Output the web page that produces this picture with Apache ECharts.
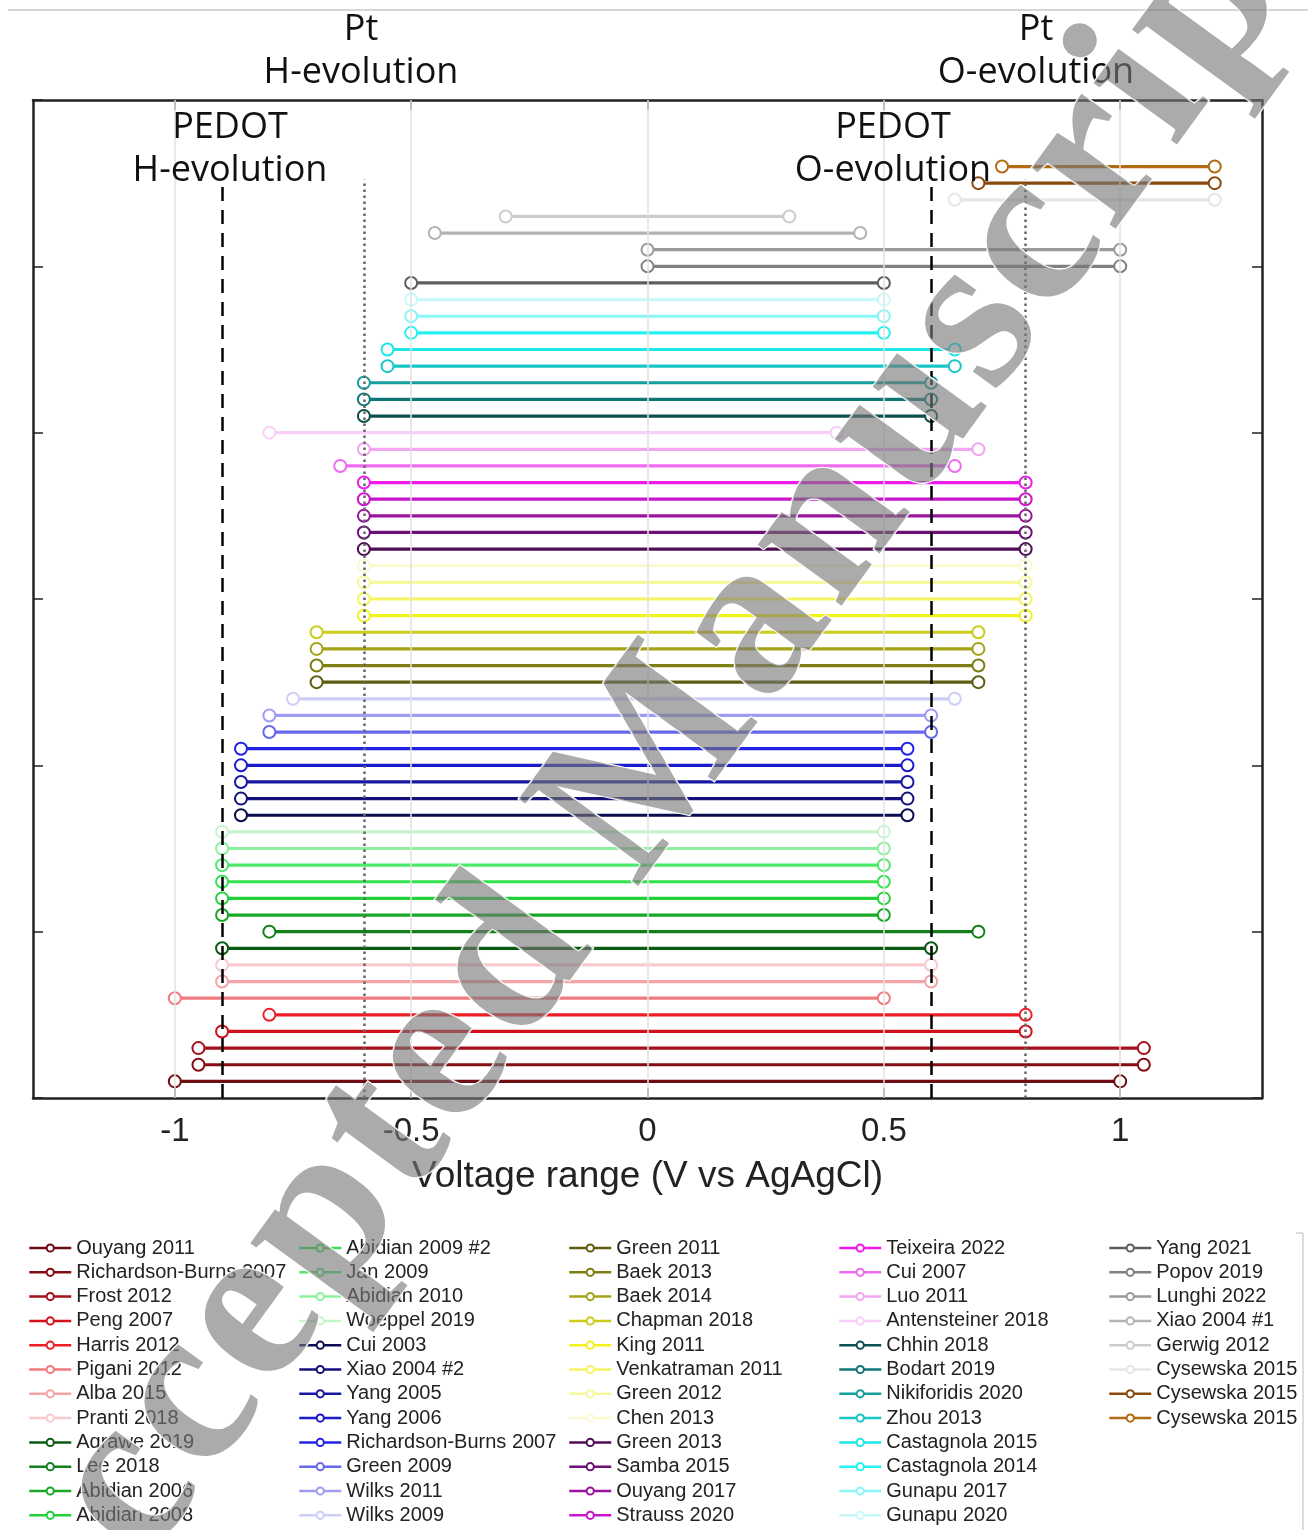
<!DOCTYPE html>
<html><head><meta charset="utf-8">
<script src="https://cdn.jsdelivr.net/npm/echarts@6/dist/echarts.min.js"></script>
<style>html,body{margin:0;padding:0;background:#fff}#c{width:1308px;height:1530px}</style>
</head><body><div id="c"></div>
<script>
// Studies, bottom row first
const studies = [
  'Ouyang 2011','Richardson-Burns 2007','Frost 2012','Peng 2007','Harris 2012','Pigani 2012','Alba 2015','Pranti 2018',
  'Aqrawe 2019','Lee 2018','Abidian 2006','Abidian 2008','Abidian 2009 #2','Jan 2009','Abidian 2010','Woeppel 2019',
  'Cui 2003','Xiao 2004 #2','Yang 2005','Yang 2006','Richardson-Burns 2007','Green 2009','Wilks 2011','Wilks 2009',
  'Green 2011','Baek 2013','Baek 2014','Chapman 2018','King 2011','Venkatraman 2011','Green 2012','Chen 2013',
  'Green 2013','Samba 2015','Ouyang 2017','Strauss 2020','Teixeira 2022','Cui 2007','Luo 2011','Antensteiner 2018',
  'Chhin 2018','Bodart 2019','Nikiforidis 2020','Zhou 2013','Castagnola 2015','Castagnola 2014','Gunapu 2017','Gunapu 2020',
  'Yang 2021','Popov 2019','Lunghi 2022','Xiao 2004 #1','Gerwig 2012','Cysewska 2015','Cysewska 2015','Cysewska 2015'
];
const vStart = [
  -1, -0.95, -0.95, -0.9, -0.8, -1, -0.9, -0.9,
  -0.9, -0.8, -0.9, -0.9, -0.9, -0.9, -0.9, -0.9,
  -0.86, -0.86, -0.86, -0.86, -0.86, -0.8, -0.8, -0.75,
  -0.7, -0.7, -0.7, -0.7, -0.6, -0.6, -0.6, -0.6,
  -0.6, -0.6, -0.6, -0.6, -0.6, -0.65, -0.6, -0.8,
  -0.6, -0.6, -0.6, -0.55, -0.55, -0.5, -0.5, -0.5,
  -0.5, 0, 0, -0.45, -0.3, 0.65, 0.7, 0.75
];
const vEnd = [
  1, 1.05, 1.05, 0.8, 0.8, 0.5, 0.6, 0.6,
  0.6, 0.7, 0.5, 0.5, 0.5, 0.5, 0.5, 0.5,
  0.55, 0.55, 0.55, 0.55, 0.55, 0.6, 0.6, 0.65,
  0.7, 0.7, 0.7, 0.7, 0.8, 0.8, 0.8, 0.8,
  0.8, 0.8, 0.8, 0.8, 0.8, 0.65, 0.7, 0.4,
  0.6, 0.6, 0.6, 0.65, 0.65, 0.5, 0.5, 0.5,
  0.5, 1, 1, 0.45, 0.3, 1.2, 1.2, 1.2
];
const colors = [
  '#6e0d12','#840c12','#a5101a','#d0111b','#ee1c25','#f27a80','#f4a3a7','#f8cacc',
  '#0b5a12','#12801a','#18a828','#22d13a','#33e24c','#4fe86a','#8ef09e','#c6f5cc',
  '#0b0b52','#12127a','#1717a3','#1b1bcc','#2323e8','#6666ee','#9d9df3','#cdcdf7',
  '#5e5e10','#7e7e12','#a3a315','#cccc1a','#f2f21c','#f5f562','#f7f79c','#fafad0',
  '#4f0d55','#6e1075','#9a139e','#c916cc','#ee1aee','#ef6bef','#f2a6f2','#f7cff7',
  '#0b4f4f','#107575','#149e9e','#19c6c6','#1de6e6','#26f0f0','#8af5f5','#c9f9f9',
  '#5e5e5e','#808080','#9a9a9a','#b3b3b3','#cccccc','#e6e6e6','#8a4a0e','#b36a14'
];
const xTicks = [-1, -0.5, 0, 0.5, 1];
const pedotLimits = [-0.9, 0.6];
const ptLimits = [-0.6, 0.8];

// unique names for legend (duplicates get zero-width suffix)
const seen = {};
const names = studies.map(n => { seen[n] = (seen[n] || 0) + 1; return n + '\u200b'.repeat(seen[n] - 1); });

const series = studies.map((s, i) => ({
  type: 'line', name: names[i],
  data: [[vStart[i], i + 1], [vEnd[i], i + 1]],
  symbol: 'emptyCircle', symbolSize: 12,
  lineStyle: { color: colors[i], width: 3.2 },
  itemStyle: { color: colors[i], borderWidth: 2.4 },
  z: 3, animation: false, silent: true
}));

series.push({
  type: 'line', name: '_grid', data: [[xTicks[0], 0]], symbol: 'none', lineStyle: { opacity: 0 }, z: 1, silent: true, animation: false,
  markLine: { silent: true, symbol: ['none', 'none'], label: { show: false }, animation: false,
    lineStyle: { color: '#e2e2e2', width: 1.5, type: 'solid' },
    data: xTicks.map(v => [{ coord: [v, 0] }, { coord: [v, 60] }]) }
});
const refTop = 55.2;
series.push({
  type: 'line', name: '_ref', data: [[pedotLimits[0], 0]], symbol: 'none', lineStyle: { opacity: 0 }, z: 5, silent: true, animation: false,
  markLine: { silent: true, symbol: ['none', 'none'], label: { show: false }, animation: false,
    data: pedotLimits.map(v => [{ coord: [v, 0], lineStyle: { color: '#000', width: 2.5, type: [14, 9] } }, { coord: [v, refTop] }])
      .concat(ptLimits.map(v => [{ coord: [v, 0], lineStyle: { color: '#666', width: 2.5, type: [2.5, 3.5] } }, { coord: [v, refTop] }])) }
});

// watermark, laid out letter by letter along a diagonal
const wmText = 'Accepted Manuscript';
const wmAdv = [0.722,0.444,0.444,0.444,0.556,0.333,0.444,0.556,0.25,0.944,0.5,0.556,0.556,0.389,0.444,0.444,0.278,0.556,0.333];
const wmAngle = 54 * Math.PI / 180, wmStep = 240, wmAnchor = [385, 1135], wmAnchorIdx = 5;
const wmGraphics = [];
{
  const centers = []; let acc = 0;
  wmAdv.forEach(a => { centers.push(acc + a / 2); acc += a; });
  const dx = Math.cos(wmAngle), dy = -Math.sin(wmAngle);
  wmText.split('').forEach((ch, k) => {
    if (ch === ' ') return;
    const off = (centers[k] - centers[wmAnchorIdx]) * wmStep;
    wmGraphics.push({ type: 'text', x: wmAnchor[0] + off * dx, y: wmAnchor[1] + off * dy, rotation: wmAngle,
      style: { text: ch, font: 'bold 226px "Liberation Serif"', fill: 'rgba(120,120,120,0.62)', stroke: '#fff', lineWidth: 2, align: 'center', verticalAlign: 'middle' },
      silent: true, z: 100 });
  });
}

const axisCommon = {
  type: 'value', min: -1.3, max: 1.3,
  axisLine: { show: true, onZero: false, lineStyle: { color: '#222', width: 2.5 } },
  splitLine: { show: false }
};
const chart = echarts.init(document.getElementById('c'), null, { renderer: 'canvas' });
const legendStarts = [0, 12, 24, 36, 48];
chart.setOption({
  backgroundColor: '#fff',
  animation: false,
  grid: { left: 33, right: 46, top: 100, bottom: 432, containLabel: false },
  xAxis: [
    Object.assign({}, axisCommon, {
      position: 'bottom',
      name: 'Voltage range (V vs AgAgCl)', nameLocation: 'middle', nameGap: 60,
      nameTextStyle: { fontSize: 37, fontFamily: 'Liberation Sans', color: '#222' },
      axisTick: { show: true, inside: true, length: 10, customValues: xTicks, lineStyle: { color: '#222', width: 1.5 } },
      axisLabel: { show: true, customValues: xTicks, fontSize: 33, margin: 17, fontFamily: 'Liberation Sans', color: '#222', formatter: v => String(v) }
    }),
    Object.assign({}, axisCommon, {
      position: 'top',
      axisTick: { show: true, inside: true, length: 10, customValues: xTicks, lineStyle: { color: '#222', width: 1.5 } },
      axisLabel: { show: false }
    })
  ],
  yAxis: ['left', 'right'].map(p => ({
    type: 'value', min: 0, max: 60, interval: 10, position: p,
    axisLine: { show: true, onZero: false, lineStyle: { color: '#222', width: 2.5 } },
    axisTick: { show: true, inside: true, length: 10, lineStyle: { color: '#222', width: 1.5 } },
    axisLabel: { show: false }, splitLine: { show: false }
  })),
  legend: legendStarts.map((s, k) => ({
    orient: 'vertical', left: 23 + 270 * k, top: 1233, height: 340,
    itemWidth: 42, itemHeight: 9, itemGap: 4.3,
    data: names.slice(s, s + 12),
    formatter: n => n.replace(/\u200b/g, ''),
    selectedMode: false,
    itemStyle: { borderWidth: 1.8 },
    lineStyle: { width: 2.5 },
    textStyle: { fontSize: 20, fontFamily: 'Liberation Sans', color: '#222', lineHeight: 20 }
  })),
  series: series,
  graphic: [
    { type: 'line', shape: { x1: 8, y1: 10, x2: 1308, y2: 10 }, style: { stroke: '#c8c8c8', lineWidth: 1.5 }, silent: true },
    { type: 'line', shape: { x1: 1303, y1: 1233, x2: 1303, y2: 1530 }, style: { stroke: '#bbb', lineWidth: 1 }, silent: true },
    { type: 'line', shape: { x1: 1296, y1: 1233, x2: 1303, y2: 1233 }, style: { stroke: '#bbb', lineWidth: 1 }, silent: true },
    { type: 'text', x: 361, y: 8, style: { text: 'Pt\nH-evolution', font: '36px "Open Sans"', fill: '#111', align: 'center', verticalAlign: 'top', lineHeight: 43 }, z: 10 },
    { type: 'text', x: 1036, y: 8, style: { text: 'Pt\nO-evolution', font: '36px "Open Sans"', fill: '#111', align: 'center', verticalAlign: 'top', lineHeight: 43 }, z: 10 },
    { type: 'text', x: 230, y: 106, style: { text: 'PEDOT\nH-evolution', font: '36px "Open Sans"', fill: '#111', align: 'center', verticalAlign: 'top', lineHeight: 43 }, z: 10 },
    { type: 'text', x: 893, y: 106, style: { text: 'PEDOT\nO-evolution', font: '36px "Open Sans"', fill: '#111', align: 'center', verticalAlign: 'top', lineHeight: 43 }, z: 10 }
  ].concat(wmGraphics)
});
</script>
</body></html>
